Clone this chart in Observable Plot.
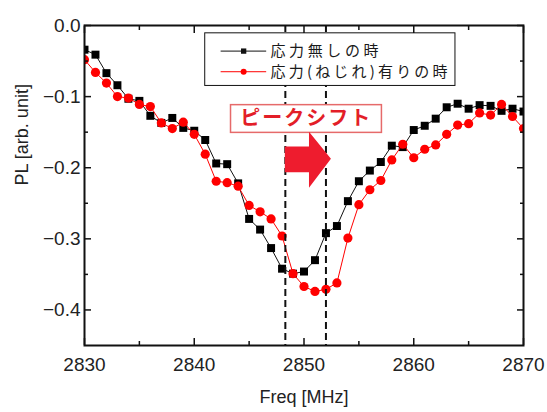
<!DOCTYPE html>
<html><head><meta charset="utf-8">
<script src="https://cdn.jsdelivr.net/npm/d3@7"></script>
<script src="https://cdn.jsdelivr.net/npm/@observablehq/plot@0.6"></script>
<style>body{margin:0;background:#fff} #chart svg{display:block}</style>
</head><body><div id="chart"></div>
<script>
const freq = [2830,2831,2832,2833,2834,2835,2836,2837,2838,2839,2840,2841,2842,2843,2844,2845,2846,2847,2848,2849,2850,2851,2852,2853,2854,2855,2856,2857,2858,2859,2860,2861,2862,2863,2864,2865,2866,2867,2868,2869,2870];
const plNoStress = [-0.034,-0.041,-0.067,-0.084,-0.103,-0.106,-0.127,-0.137,-0.130,-0.144,-0.148,-0.161,-0.194,-0.195,-0.222,-0.272,-0.287,-0.313,-0.342,-0.349,-0.346,-0.330,-0.292,-0.282,-0.247,-0.219,-0.204,-0.192,-0.169,-0.171,-0.147,-0.141,-0.131,-0.115,-0.110,-0.117,-0.112,-0.113,-0.120,-0.117,-0.121];
const plStress = [-0.048,-0.066,-0.081,-0.100,-0.102,-0.111,-0.114,-0.137,-0.145,-0.136,-0.153,-0.181,-0.219,-0.221,-0.226,-0.253,-0.262,-0.272,-0.296,-0.349,-0.367,-0.374,-0.371,-0.362,-0.299,-0.252,-0.231,-0.218,-0.189,-0.167,-0.186,-0.174,-0.168,-0.153,-0.140,-0.138,-0.123,-0.126,-0.111,-0.128,-0.145];
const xMajorTicks = [2830,2840,2850,2860,2870];
const xMinorTicks = [2835,2845,2855,2865];
const yMajorTicks = [0,-0.1,-0.2,-0.3,-0.4];
const yMinorTicks = [-0.05,-0.15,-0.25,-0.35];
const shiftLines = [2848.3, 2852.0];
const seriesNames = ["応力無しの時", "応力(ねじれ)有りの時"];
const annotationText = "ピークシフト";
const xLabel = "Freq [MHz]";
const yLabel = "PL [arb. unit]";

const blackData = freq.map((f, i) => ({f, v: plNoStress[i]}));
const redData = freq.map((f, i) => ({f, v: plStress[i]}));

const font = "'Liberation Sans', Arial, sans-serif";
const cjk = "'Noto Sans CJK JP', sans-serif";
const RED = "#ff0000";
const INK = "#111";

// annotation geometry in data coordinates
const arrow = [
  {x: 2848.3, y1: -0.171, y2: -0.207},
  {x: 2850.5, y1: -0.171, y2: -0.207},
  {x: 2850.5, y1: -0.150, y2: -0.229},
  {x: 2852.5, y1: -0.188, y2: -0.188}
];
const legendRows = [
  {name: seriesNames[0], y: -0.036, color: INK, symbol: "square", r: 3.6, len: 108},
  {name: seriesNames[1], y: -0.065, color: RED, symbol: "circle", r: 3.6, len: 177}
];

const axisCommon = {fontSize: 19, fontFamily: font, fill: "#222", stroke: INK, strokeWidth: 1.5};
const blank = () => "";

const chart = Plot.plot({
  width: 547, height: 412,
  marginLeft: 84, marginRight: 24, marginTop: 25, marginBottom: 67,
  style: {fontFamily: font, background: "#fff", color: "#222"},
  x: {domain: [2830, 2870]},
  y: {domain: [-0.45, 0]},
  marks: [
    // data
    Plot.line(blackData, {x: "f", y: "v", stroke: INK, strokeWidth: 1, clip: true}),
    Plot.dot(blackData, {x: "f", y: "v", symbol: "square", r: 4.5, fill: "#000", stroke: "none", clip: true}),
    Plot.line(redData, {x: "f", y: "v", stroke: RED, strokeWidth: 1, clip: true}),
    Plot.dot(redData, {x: "f", y: "v", symbol: "circle", r: 4.6, fill: RED, stroke: "none", clip: true}),
    // peak-shift dashed lines
    Plot.ruleX(shiftLines, {stroke: INK, strokeWidth: 2, strokeDasharray: "7,4"}),
    // legend
    Plot.rect([0], {x1: 2841.0, x2: 2863.8, y1: -0.011, y2: -0.085, fill: "white", stroke: INK, strokeWidth: 1}),
    Plot.ruleY(legendRows, {y: "y", x1: 2842.45, x2: 2846.6, stroke: "color", strokeWidth: 1}),
    Plot.dot(legendRows, {x: 2844.5, y: "y", symbol: "symbol", r: "r", fill: "color", stroke: "none"}),
    Plot.text(legendRows, {x: 2846.95, y: "y", text: "name", textAnchor: "start", fontSize: 15, fontFamily: cjk, fill: "#1a1a1a", className: "legendtext"}),
    // annotation box + arrow
    Plot.rect([0], {x1: 2843.35, x2: 2857.1, y1: -0.112, y2: -0.151, fill: "white", stroke: "#e66a6a", strokeWidth: 1.5}),
    Plot.text([annotationText], {x: 2850.2, y: -0.131, fontSize: 20, fontWeight: "bold", fontFamily: cjk, fill: "#e31e28", className: "shiftlabel"}),
    Plot.areaY(arrow, {x: "x", y1: "y1", y2: "y2", fill: "#ee1c2e", curve: "linear"}),
    // frame & axes (ticks inward)
    Plot.frame({stroke: INK, strokeWidth: 2}),
    Plot.axisX({...axisCommon, ticks: xMajorTicks, tickSize: -7, tickPadding: 19, tickFormat: d => String(d), label: null}),
    Plot.axisX({...axisCommon, ticks: xMinorTicks, tickSize: -4, tickFormat: blank, label: null}),
    Plot.axisX({...axisCommon, anchor: "top", ticks: xMajorTicks, tickSize: -7, tickFormat: blank, label: null}),
    Plot.axisX({...axisCommon, anchor: "top", ticks: xMinorTicks, tickSize: -4, tickFormat: blank, label: null}),
    Plot.axisY({...axisCommon, ticks: yMajorTicks, tickSize: -7, tickPadding: 11, tickFormat: d3.format(".1f"), label: null}),
    Plot.axisY({...axisCommon, ticks: yMinorTicks, tickSize: -4, tickFormat: blank, label: null}),
    Plot.axisY({...axisCommon, anchor: "right", ticks: yMajorTicks, tickSize: -7, tickFormat: blank, label: null}),
    Plot.axisY({...axisCommon, anchor: "right", ticks: yMinorTicks, tickSize: -4, tickFormat: blank, label: null}),
    // axis titles
    Plot.text([xLabel], {frameAnchor: "bottom", dy: 52, fontSize: 18, fontFamily: font, fill: "#222", lineAnchor: "middle"}),
    Plot.text([yLabel], {frameAnchor: "left", dx: -62, rotate: -90, fontSize: 18, fontFamily: font, fill: "#222", lineAnchor: "middle"})
  ]
});
d3.select(chart).selectAll(".shiftlabel text").style("letter-spacing", "2px");
d3.select(chart).selectAll(".legendtext text").each(function(d, i) {
  const row = legendRows.find(r => r.name === this.textContent);
  if (row) { this.setAttribute("textLength", row.len); this.setAttribute("lengthAdjust", "spacing"); }
});
document.getElementById("chart").appendChild(chart);
</script>
</body></html>
